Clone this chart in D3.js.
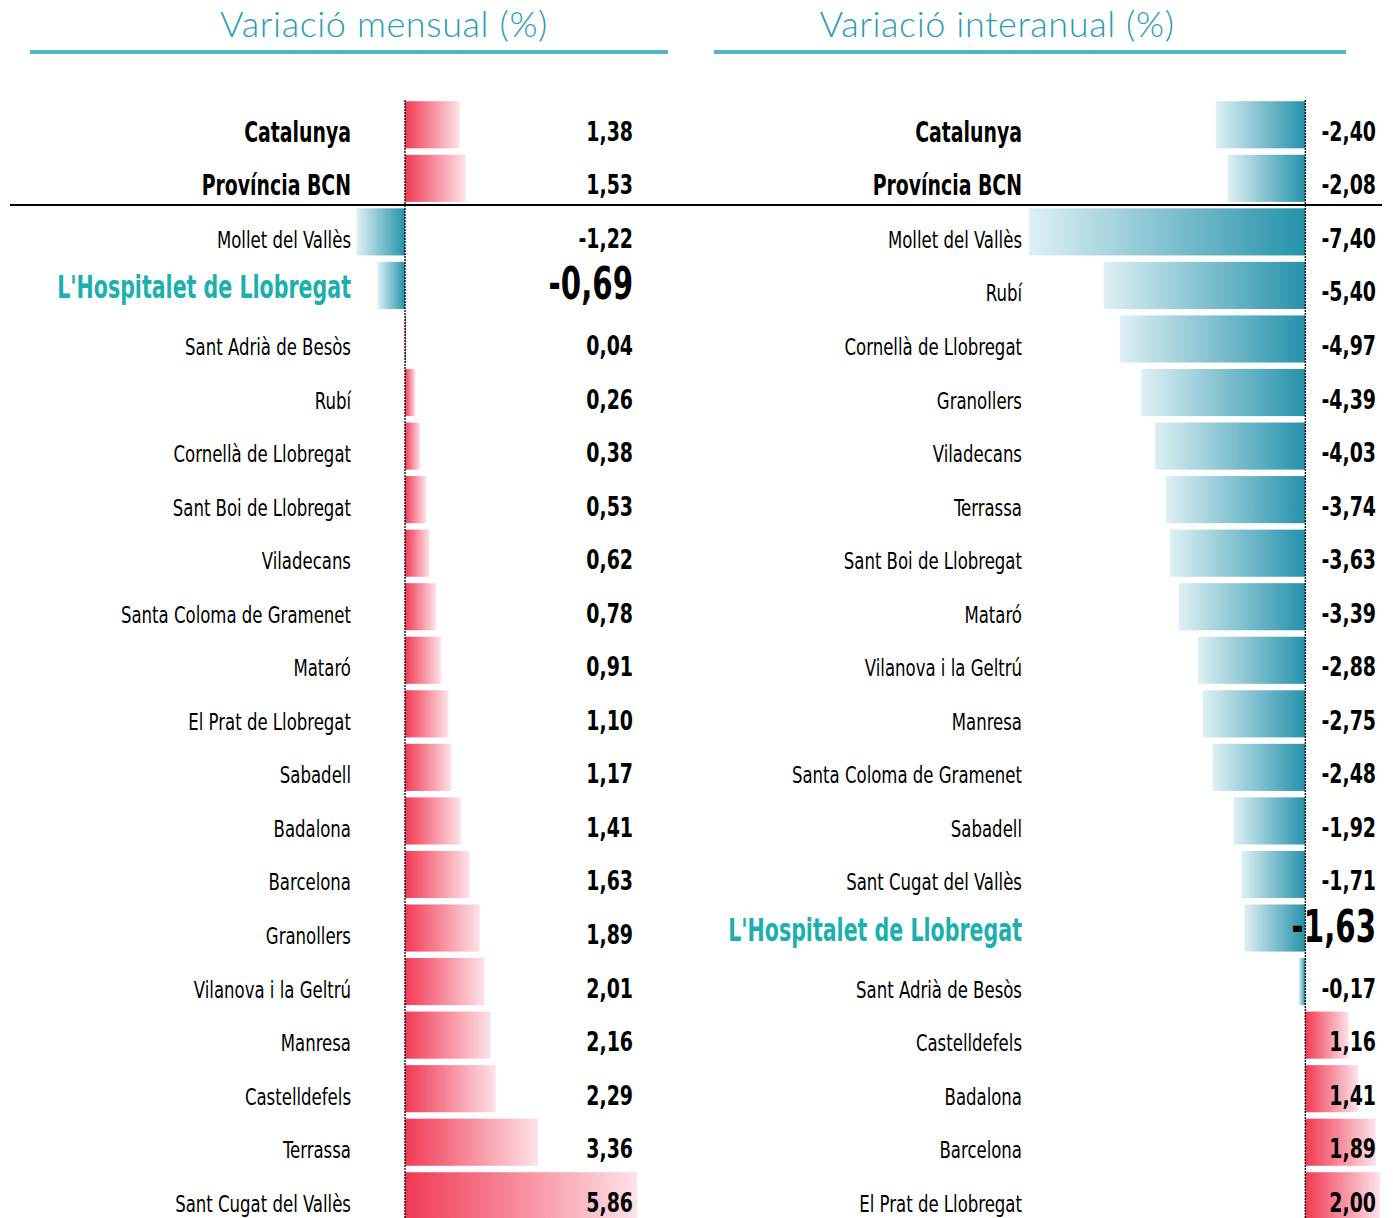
<html>
  <head>
    <script src="https://d3js.org/d3.v7.min.js"></script>
    <style>
      body {margin:0; background:white;}
      .lbl {font-family:"DejaVu Sans Condensed","Liberation Sans",Arial,sans-serif;}
      .ttl {font-family:Lato,"Open Sans",sans-serif; font-weight:300;}
    </style>
  </head>
  <body>
    <div id="chart1"></div>
    <script>
      // monthly variation (%)
      var monthNames = ["Catalunya","Província BCN","Mollet del Vallès","L'Hospitalet de Llobregat","Sant Adrià de Besòs","Rubí","Cornellà de Llobregat","Sant Boi de Llobregat","Viladecans","Santa Coloma de Gramenet","Mataró","El Prat de Llobregat","Sabadell","Badalona","Barcelona","Granollers","Vilanova i la Geltrú","Manresa","Castelldefels","Terrassa","Sant Cugat del Vallès"];
      var monthValues = [1.38,1.53,-1.22,-0.69,0.04,0.26,0.38,0.53,0.62,0.78,0.91,1.10,1.17,1.41,1.63,1.89,2.01,2.16,2.29,3.36,5.86];
      // year-on-year variation (%)
      var yearNames = ["Catalunya","Província BCN","Mollet del Vallès","Rubí","Cornellà de Llobregat","Granollers","Viladecans","Terrassa","Sant Boi de Llobregat","Mataró","Vilanova i la Geltrú","Manresa","Santa Coloma de Gramenet","Sabadell","Sant Cugat del Vallès","L'Hospitalet de Llobregat","Sant Adrià de Besòs","Castelldefels","Badalona","Barcelona","El Prat de Llobregat"];
      var yearValues = [-2.40,-2.08,-7.40,-5.40,-4.97,-4.39,-4.03,-3.74,-3.63,-3.39,-2.88,-2.75,-2.48,-1.92,-1.71,-1.63,-0.17,1.16,1.41,1.89,2.00];
      var titles = ["Variació mensual (%)","Variació interanual (%)"];

      var highlight = "L'Hospitalet de Llobregat";
      var totals = ["Catalunya","Província BCN"];

      var width = 1393, height = 1218;
      var svg = d3.select("#chart1").append("svg")
        .attr("width", width).attr("height", height);

      var defs = svg.append("defs");
      function grad(id, c0, c1, reverse){
        var g = defs.append("linearGradient").attr("id", id)
          .attr("x1", reverse ? "100%" : "0%").attr("x2", reverse ? "0%" : "100%")
          .attr("y1","0%").attr("y2","0%");
        g.append("stop").attr("offset","0%").attr("stop-color", c0);
        g.append("stop").attr("offset","100%").attr("stop-color", c1);
      }
      grad("redGrad", "#f13a55", "#fde2e8", false);
      grad("blueGrad", "#2592ab", "#def0f4", true);

      var y = d3.scaleBand()
        .domain(d3.range(21))
        .range([98, 98 + 21 * 53.55])
        .paddingInner(0.12)
        .paddingOuter(0.06);

      function fmt(v){ return v.toFixed(2).replace(".", ","); }

      // calibri-ish narrow text: condense a wider font horizontally
      function nameStyle(d){
        if(d.name == highlight) return {size:32, weight:"bold", sx:0.715, dy:13, fill:"#1bb0ad"};
        if(totals.indexOf(d.name) >= 0) return {size:28, weight:"bold", sx:0.75, dy:17, fill:"#000"};
        return {size:23, weight:"normal", sx:0.80, dy:16, fill:"#000"};
      }
      function valStyle(d){
        if(d.name == highlight) return {size:44, sx:0.74, dy:14};
        return {size:27, sx:0.78, dy:16};
      }

      function panel(cfg){
        var g = svg.append("g");
        var x = d3.scaleLinear().domain(cfg.domain).range(cfg.range);

        g.append("text").attr("class","ttl")
          .attr("x", cfg.titleX).attr("y", 37)
          .attr("text-anchor","middle")
          .style("font-size","36px").style("letter-spacing","0.6px").style("fill","#2a9bb5")
          .text(cfg.title);
        g.append("line")
          .attr("x1", cfg.ruleX[0]).attr("x2", cfg.ruleX[1])
          .attr("y1", 52).attr("y2", 52)
          .style("stroke","#55b3c9").style("stroke-width", 4);

        var rows = cfg.names.map(function(n, i){ return {name:n, value:cfg.values[i], i:i}; });

        g.selectAll("rect.bar").data(rows).enter().append("rect")
          .attr("class","bar")
          .attr("x", function(d){ return Math.min(x(0), x(d.value)); })
          .attr("y", function(d){ return y(d.i); })
          .attr("width", function(d){ return Math.abs(x(d.value) - x(0)); })
          .attr("height", y.bandwidth())
          .style("fill", function(d){ return d.value >= 0 ? "url(#redGrad)" : "url(#blueGrad)"; });

        g.append("line")
          .attr("x1", x(0)).attr("x2", x(0))
          .attr("y1", 100).attr("y2", height)
          .style("stroke","#000").style("stroke-width",1.3)
          .style("stroke-dasharray","2,1");

        g.selectAll("text.name").data(rows).enter().append("text")
          .attr("class","lbl name")
          .attr("transform", function(d){
            var s = nameStyle(d);
            return "translate(" + cfg.nameX + "," + (y(d.i) + y.bandwidth()/2 + s.dy) + ") scale(" + s.sx + ",1)";
          })
          .attr("text-anchor","end")
          .style("font-size", function(d){ return nameStyle(d).size + "px"; })
          .style("font-weight", function(d){ return nameStyle(d).weight; })
          .style("fill", function(d){ return nameStyle(d).fill; })
          .text(function(d){ return d.name; });

        g.selectAll("text.val").data(rows).enter().append("text")
          .attr("class","lbl val")
          .attr("transform", function(d){
            var s = valStyle(d);
            return "translate(" + cfg.valX + "," + (y(d.i) + y.bandwidth()/2 + s.dy) + ") scale(" + s.sx + ",1)";
          })
          .attr("text-anchor","end")
          .style("font-size", function(d){ return valStyle(d).size + "px"; })
          .style("font-weight","bold")
          .style("fill","#000")
          .text(function(d){ return fmt(d.value); });
      }

      panel({names:monthNames, values:monthValues, title:titles[0],
             domain:[-1.22, 5.86], range:[356.7, 637],
             titleX:384, ruleX:[30, 668], nameX:351, valX:633});
      panel({names:yearNames, values:yearValues, title:titles[1],
             domain:[-7.40, 2.00], range:[1029, 1380],
             titleX:997, ruleX:[714, 1346], nameX:1022, valX:1376});

      svg.append("line")
        .attr("x1", 10).attr("x2", 1382)
        .attr("y1", 205).attr("y2", 205)
        .style("stroke","#000").style("stroke-width",2);
    </script>
  </body>
</html>
